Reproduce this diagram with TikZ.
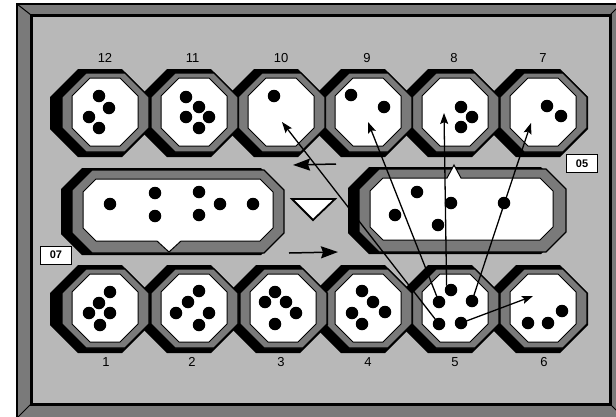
\documentclass[tikz,border=0pt]{standalone}
\usepackage{fontspec}
\setmainfont{Liberation Sans}
\usetikzlibrary{arrows.meta}
\definecolor{bg}{RGB}{184,184,184}
\definecolor{band}{RGB}{122,122,122}
% octagon: style, cx, cy, half width, half height, corner cut
\newcommand\octagon[6]{%
  \path[#1] ({#2+#4},{#3-#5+#6}) -- ({#2+#4},{#3+#5-#6})
    -- ({#2+#4-#6},{#3+#5}) -- ({#2-#4+#6},{#3+#5})
    -- ({#2-#4},{#3+#5-#6}) -- ({#2-#4},{#3-#5+#6})
    -- ({#2-#4+#6},{#3-#5}) -- ({#2+#4-#6},{#3-#5}) -- cycle;}
\newcommand\drawpit[3]{%
  \coordinate (p#1) at (#2,#3);
  \octagon{shadowoct}{#2-5}{#3+1}{50}{44}{28}
  \octagon{bandoct}{#2+0.5}{#3+0.5}{43.5}{39.5}{24}
  \octagon{welloct}{#2}{#3}{33}{34}{18}
}
\begin{document}
\begin{tikzpicture}[x=1pt,y=-1pt,
  shadowoct/.style={fill=black},
  bandoct/.style={fill=band, draw=black, line width=1.2pt},
  welloct/.style={fill=white, draw=black, line width=1pt},
  pip/.style={circle, fill=black, minimum size=12.5pt, inner sep=0pt, outer sep=0pt},
  num/.style={font=\fontsize{13}{13}\selectfont, inner sep=0pt},
  tag/.style={draw=black, fill=white, line width=1pt, font=\fontsize{11}{11}\selectfont\bfseries, minimum width=31pt, minimum height=18pt, inner sep=0pt},
  pipar/.style={line width=1.3pt, -{Stealth[length=11pt,width=8pt,inset=2pt]}},
  turnar/.style={line width=1.5pt, -{Stealth[length=17pt,width=12pt,inset=2pt]}}
]
\useasboundingbox (0,0) rectangle (616,416);
\clip (0,0) rectangle (616,416);
\fill[white] (0,0) rectangle (616,416);
% board frame
\draw[fill=band, line width=1.2pt] (17,4) rectangle (640,440);
\draw[fill=bg, line width=3pt] (31,15) rectangle (610,404);
\draw[line width=1pt] (17,4) -- (31,15) (610,15) -- (621,4) (31,404) -- (17,418) (610,404) -- (622,416);
% left store
\fill[black] (82,168) -- (261,168) -- (282,189) -- (282,234) -- (261,255) -- (82,255) -- (61,234) -- (61,189) -- cycle;
\filldraw[fill=band, line width=1.2pt] (92,170) -- (264,170) -- (284,190) -- (284,233) -- (264,253) -- (92,253) -- (72,233) -- (72,190) -- cycle;
\filldraw[fill=white, line width=1pt] (96,179) -- (260,179) -- (273,192) -- (273,228) -- (260,241) -- (181,241) -- (169,252) -- (157,241) -- (96,241) -- (83,228) -- (83,192) -- cycle;
% right store
\fill[black] (369,167) -- (541,167) -- (562,188) -- (562,233) -- (541,254) -- (369,254) -- (348,233) -- (348,188) -- cycle;
\filldraw[fill=band, line width=1.2pt] (379,169) -- (546,169) -- (566,189) -- (566,232) -- (546,252) -- (379,252) -- (359,232) -- (359,189) -- cycle;
\filldraw[fill=white, line width=1pt] (383,178) -- (447,178) -- (454,165) -- (461,178) -- (540,178) -- (553,191) -- (553,227) -- (540,240) -- (383,240) -- (370,227) -- (370,191) -- cycle;
% pits, top row (right to left)
\drawpit{7}{543}{112}
\drawpit{8}{455}{112}
\drawpit{9}{368}{112}
\drawpit{10}{281}{112}
\drawpit{11}{194}{112}
\drawpit{12}{105}{112}
% pits, bottom row (right to left)
\drawpit{6}{543}{308}
\drawpit{5}{455}{308}
\drawpit{4}{368}{308}
\drawpit{3}{283}{308}
\drawpit{2}{194}{308}
\drawpit{1}{105}{308}
% pit numbers
\node[num] (n12) at (105,58) {12};
\node[num] (n11) at (192.5,58) {11};
\node[num] (n10) at (281,58) {10};
\node[num] (n9) at (367,58) {9};
\node[num] (n8) at (454,58) {8};
\node[num] (n7) at (543,58) {7};
\node[num] (n1) at (106,362) {1};
\node[num] (n2) at (192,362) {2};
\node[num] (n3) at (281,362) {3};
\node[num] (n4) at (368,362) {4};
\node[num] (n5) at (455,362) {5};
\node[num] (n6) at (544,362) {6};
% pips top row
\node[pip] (a12) at (99,96) {};  \node[pip] (b12) at (109,108) {};
\node[pip] (c12) at (89,117) {}; \node[pip] (d12) at (99,128) {};
\node[pip] (a11) at (186,97) {}; \node[pip] (b11) at (199,107) {};
\node[pip] (c11) at (186,117) {}; \node[pip] (d11) at (209,117) {};
\node[pip] (e11) at (199,128) {};
\node[pip] (a10) at (274,96) {};
\node[pip] (a9) at (351,95) {}; \node[pip] (b9) at (384,107) {};
\node[pip] (a8) at (461,107) {}; \node[pip] (b8) at (472,117) {};
\node[pip] (c8) at (461,127) {};
\node[pip] (a7) at (547,106) {}; \node[pip] (b7) at (561,116) {};
% pips bottom row
\node[pip] (a1) at (110,292) {}; \node[pip] (b1) at (99,303) {};
\node[pip] (c1) at (89,313) {}; \node[pip] (d1) at (110,313) {};
\node[pip] (e1) at (100,325) {};
\node[pip] (a2) at (199,291) {}; \node[pip] (b2) at (188,302) {};
\node[pip] (c2) at (176,313) {}; \node[pip] (d2) at (209,313) {};
\node[pip] (e2) at (199,325) {};
\node[pip] (a3) at (275,292) {}; \node[pip] (b3) at (265,302) {};
\node[pip] (c3) at (286,302) {}; \node[pip] (d3) at (296,313) {};
\node[pip] (e3) at (275,324) {};
\node[pip] (a4) at (362,291) {}; \node[pip] (b4) at (373,302) {};
\node[pip] (c4) at (352,313) {}; \node[pip] (d4) at (385,312) {};
\node[pip] (e4) at (362,324) {};
\node[pip] (a5) at (451,290) {}; \node[pip] (b5) at (439,302) {};
\node[pip] (c5) at (472,301) {}; \node[pip] (d5) at (439,324) {};
\node[pip] (e5) at (461,323) {};
\node[pip] (a6) at (562,311) {}; \node[pip] (b6) at (528,323) {};
\node[pip] (c6) at (548,323) {};
% store pips
\node[pip] (l1) at (110,204) {}; \node[pip] (l2) at (155,193) {};
\node[pip] (l3) at (155,216) {}; \node[pip] (l4) at (199,192) {};
\node[pip] (l5) at (199,215) {}; \node[pip] (l6) at (220,204) {};
\node[pip] (l7) at (253,204) {};
\node[pip] (r1) at (417,192) {}; \node[pip] (r2) at (451,203) {};
\node[pip] (r3) at (504,203) {}; \node[pip] (r4) at (395,215) {};
\node[pip] (r5) at (438,225) {};
% store tags
\node[tag] (tag07) at (56,255) {07};
\node[tag] (tag05) at (582,163.5) {05};
% turn indicators
\draw[line width=1.8pt, fill=white, line join=miter] (292,199) -- (335,199) -- (313,220) -- cycle;
\coordinate (la1) at (336,164); \coordinate (la2) at (293,165);
\coordinate (ra1) at (289,253); \coordinate (ra2) at (338,252);
\draw[turnar] (la1) -- (la2);
\draw[turnar] (ra1) -- (ra2);
% sowing arrows
\coordinate (t10) at (282,122);
\coordinate (t9) at (368,122);
\coordinate (t8) at (444,113);
\coordinate (t7) at (531,123);
\coordinate (t6) at (533,296);
\draw[pipar] (d5.center) -- (t10);
\draw[pipar] (b5.center) -- (t9);
\draw[pipar] (a5.north west) -- (t8);
\draw[pipar] (c5.center) -- (t7);
\draw[pipar] (e5.center) -- (t6);
\end{tikzpicture}
\end{document}
